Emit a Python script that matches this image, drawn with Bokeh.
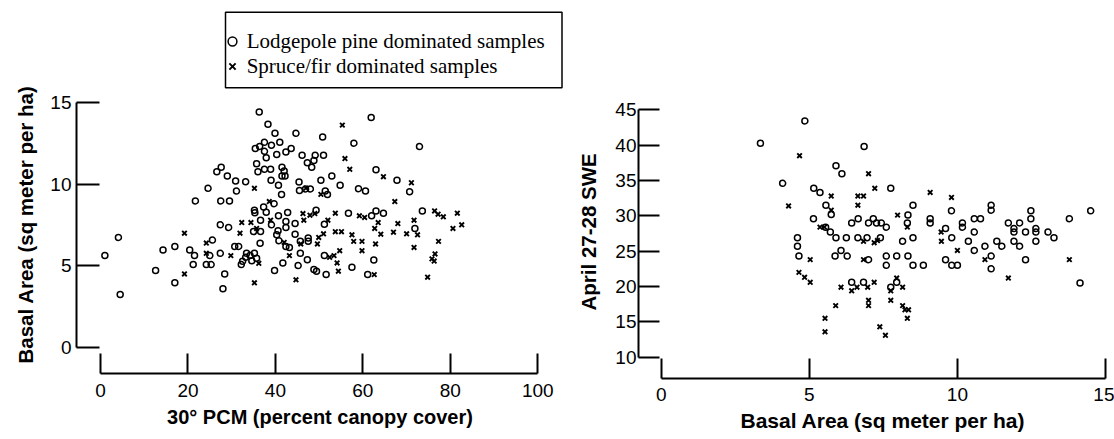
from bokeh.plotting import figure
from bokeh.layouts import row
from bokeh.models import FixedTicker, Range1d, Legend, LegendItem, BoxAnnotation, Title
from bokeh.embed import file_html
from bokeh.resources import INLINE

# ---------------- Left panel: 30 deg PCM vs basal area ----------------
lp_pcm = [36.3, 61.9, 38.3, 39.9, 44.7, 50.8, 57.95, 37.5, 41.0, 72.95, 35.4, 36.4, 37.5, 39.1, 43.6, 42.4,
          40.3, 37.9, 46.1, 49.1, 48.8, 51.0, 47.3, 48.3, 35.7, 41.5, 42.0, 27.6, 26.6, 63.0, 36.0, 37.5,
          38.9, 41.5, 42.2, 29.0, 52.9, 30.9, 33.2, 39.0, 50.4, 67.8, 45.4, 24.6, 31.1, 40.7, 54.8, 59.0,
          60.6, 70.7, 45.5, 46.9, 48.0, 41.4, 51.4, 51.9, 21.7, 27.5, 29.5, 39.7, 37.3, 37.9, 35.2, 35.3,
          42.8, 40.7, 49.3, 56.7, 62.0, 63.0, 64.7, 73.6, 36.6, 39.1, 42.4, 42.4, 44.5, 51.2, 27.4, 29.3,
          35.0, 36.6, 71.9, 40.6, 40.3, 44.5, 4.1, 40.8, 25.6, 45.7, 47.5, 47.5, 36.5, 42.4, 43.2, 30.7,
          31.6, 17.0, 14.3, 20.4, 51.2, 45.7, 1.0, 21.5, 25.0, 27.4, 33.4, 34.2, 35.2, 33.2, 34.6, 35.7,
          32.5, 32.2, 47.3, 41.7, 21.2, 24.2, 25.3, 45.2, 62.5, 57.5, 48.8, 49.4, 12.6, 39.8, 51.6, 61.1,
          28.4, 17.0, 28.0, 4.5]
lp_ba = [14.4, 14.07, 13.66, 13.1, 13.1, 12.87, 12.5, 12.55, 12.55, 12.29, 12.17, 12.3, 12.0, 12.37, 12.17, 11.96,
         11.8, 11.6, 11.76, 11.76, 11.44, 11.76, 11.3, 11.03, 11.24, 11.03, 10.8, 11.03, 10.75, 10.87, 10.75, 10.9,
         10.9, 10.49, 10.49, 10.49, 10.49, 10.18, 10.14, 10.24, 10.24, 10.24, 10.12, 9.74, 9.57, 9.92, 9.92, 9.72,
         9.57, 9.53, 9.6, 9.7, 9.7, 9.37, 9.57, 9.37, 8.97, 8.97, 8.97, 8.8, 8.6, 8.28, 8.4, 8.25,
         8.26, 8.06, 8.4, 8.22, 8.06, 8.36, 8.22, 8.36, 7.79, 7.51, 7.71, 7.35, 7.59, 7.55, 7.51, 7.35,
         7.1, 7.1, 7.29, 7.15, 6.9, 6.94, 6.74, 6.54, 6.58, 6.5, 6.7, 6.5, 6.38, 6.19, 6.13, 6.19,
         6.19, 6.19, 5.97, 5.97, 5.63, 5.77, 5.63, 5.63, 5.63, 5.77, 5.77, 5.63, 5.77, 5.53, 5.32, 5.47,
         5.28, 5.08, 5.38, 5.18, 5.08, 5.08, 5.08, 5.02, 5.36, 4.92, 4.78, 4.68, 4.72, 4.72, 4.47, 4.47,
         4.51, 3.97, 3.6, 3.26]
sf_pcm = [55.3, 55.9, 57.0, 64.7, 71.1, 35.2, 47.0, 50.4, 38.6, 67.3, 46.3, 47.9, 49.0, 53.7, 59.2, 60.4,
          76.4, 77.2, 78.4, 81.6, 38.9, 46.5, 52.0, 63.5, 68.0, 71.7, 32.3, 34.4, 35.7, 82.6, 80.6, 62.7,
          31.9, 19.2, 67.0, 70.0, 72.5, 51.0, 53.7, 55.1, 57.5, 64.1, 49.9, 42.0, 24.2, 45.8, 49.6, 57.9,
          59.8, 62.9, 77.3, 71.7, 59.8, 54.7, 53.4, 52.4, 43.2, 76.5, 75.8, 76.3, 24.2, 29.8, 36.2, 54.1,
          54.4, 62.6, 19.2, 35.2, 44.7, 74.8]
sf_ba = [13.6, 11.56, 10.9, 10.45, 10.08, 9.74, 9.75, 9.37, 8.93, 8.93, 8.2, 8.1, 8.2, 8.22, 8.06, 7.96,
         8.36, 8.16, 8.0, 8.22, 7.79, 7.79, 7.79, 7.65, 7.59, 7.79, 7.65, 7.65, 7.29, 7.51, 7.29, 7.29,
         7.0, 7.0, 7.06, 6.96, 6.9, 6.96, 7.09, 7.09, 6.9, 6.94, 6.74, 6.44, 6.4, 6.34, 6.34, 6.5,
         6.5, 6.34, 6.5, 6.13, 5.93, 5.93, 5.63, 5.53, 5.63, 5.73, 5.43, 5.3, 5.77, 5.63, 5.16, 5.18,
         4.68, 4.47, 4.51, 3.97, 4.15, 4.31]

# ---------------- Right panel: basal area vs April 27-28 SWE ----------------
lp_ba2 = [3.35, 4.85, 4.10, 6.85, 5.9, 6.1, 5.15, 5.36, 5.56, 5.74, 7.75, 8.5, 5.14, 6.65, 6.43, 7.16,
          7.0, 7.27, 7.43, 8.33, 9.08, 9.08, 9.8, 10.17, 10.17, 10.57, 10.78, 11.14, 11.14, 11.72, 12.1, 12.48,
          12.48, 13.78, 14.5, 5.55, 5.71, 5.9, 6.25, 7.6, 8.31, 8.5, 9.6, 9.81, 10.37, 10.57, 10.93, 11.33,
          11.5, 11.91, 11.91, 11.91, 12.1, 12.3, 12.65, 12.65, 12.65, 13.06, 13.26, 6.64, 6.95, 7.40, 8.15,
          4.6, 4.6, 4.65, 5.87, 6.07, 6.28, 7.0, 7.6, 7.6, 7.95, 8.33, 8.5, 8.85, 9.6, 9.81, 10.0,
          10.57, 11.14, 11.14, 12.3, 14.14, 6.43, 6.83, 7.95, 7.75]
lp_swe = [40.26, 43.43, 34.6, 39.8, 37.1, 35.96, 33.9, 33.3, 31.5, 30.2, 33.9, 31.5, 29.6, 29.6, 29.0, 29.6,
          29.0, 29.0, 29.0, 30.1, 29.6, 29.0, 30.7, 29.0, 28.4, 29.6, 29.6, 31.5, 30.8, 29.0, 29.0, 30.7,
          29.6, 29.6, 30.7, 28.4, 27.7, 26.9, 26.9, 28.4, 29.0, 26.9, 28.2, 26.9, 26.4, 27.7, 25.7, 26.4,
          25.7, 27.7, 28.2, 26.4, 25.7, 27.7, 28.2, 27.7, 26.4, 27.7, 26.9, 26.9, 26.9, 26.9, 26.4,
          26.9, 25.7, 24.3, 24.3, 25.1, 24.3, 23.8, 24.3, 23.0, 24.3, 24.3, 23.0, 23.0, 23.8, 23.0, 23.0,
          25.1, 24.3, 22.5, 23.8, 20.5, 20.6, 20.6, 20.6, 19.9]
sf_ba2 = [4.67, 4.30, 7.0, 5.74, 6.64, 6.83, 6.64, 7.21, 9.08, 9.8, 5.74, 7.98, 5.36, 5.51, 8.31, 9.45,
          9.46, 6.83, 7.19, 7.3, 5.03, 6.83, 10.0, 10.93, 13.78, 11.72, 4.65, 4.84, 5.03, 6.07, 6.43, 6.61,
          6.97, 7.19, 7.95, 7.75, 8.15, 7.0, 7.0, 7.75, 5.89, 8.15, 8.23, 8.35, 5.53, 5.53, 8.31, 7.38, 7.57]
sf_swe = [38.5, 31.4, 35.96, 32.8, 32.8, 32.8, 31.5, 33.9, 33.3, 32.6, 30.8, 30.1, 28.4, 28.4, 28.4, 27.7,
          26.4, 26.4, 26.2, 26.5, 23.8, 23.8, 25.1, 23.8, 23.8, 21.2, 22.0, 21.3, 20.6, 19.9, 19.4, 19.9,
          19.9, 20.6, 21.2, 19.4, 19.9, 18.05, 17.3, 18.05, 17.3, 17.3, 16.7, 16.7, 15.5, 13.6, 15.5, 14.3, 13.1]

pcm_ticks = [0, 20, 40, 60, 80, 100]
ba_ticks = [0, 5, 10, 15]
swe_ticks = [10, 15, 20, 25, 30, 35, 40, 45]

legend_labels = ["Lodgepole pine dominated samples", "Spruce/fir dominated samples"]

SANS = "Liberation Sans"


def style_axis(ax, ticks, bounds, tick_in, standoff):
    ax.ticker = FixedTicker(ticks=ticks)
    ax.bounds = bounds
    ax.axis_line_width = 2
    ax.axis_line_color = "black"
    ax.major_tick_line_width = 2
    ax.major_tick_line_color = "black"
    ax.major_tick_in = tick_in
    ax.major_tick_out = 0
    ax.minor_tick_line_color = None
    ax.major_label_text_font = SANS
    ax.major_label_text_font_size = "19px"
    ax.major_label_text_color = "black"
    ax.major_label_standoff = standoff
    ax.axis_label_text_font = SANS
    ax.axis_label_text_font_style = "bold"
    ax.axis_label_text_color = "black"


def side_title(text, size, offset, standoff, valign):
    return Title(text=text, align="left", offset=offset, standoff=standoff, vertical_align=valign,
                 text_font=SANS, text_font_size=size, text_font_style="bold", text_color="black")


def base_fig(width, height, xr, yr, bl, br, bt, bb):
    p = figure(width=width, height=height, x_range=Range1d(*xr), y_range=Range1d(*yr),
               output_backend="svg", toolbar_location=None, title=None,
               min_border_left=bl, min_border_right=br, min_border_top=bt, min_border_bottom=bb)
    p.xgrid.visible = False
    p.ygrid.visible = False
    p.outline_line_color = None
    p.background_fill_color = "white"
    p.border_fill_color = "white"
    return p


# ---- left figure (frame reaches the top/right edges so the legend is not clipped) ----
p1 = base_fig(563, 434, (-5.488, 105.88), (-1.570, 21.211), 76, 0, 0, 61)
c1 = p1.scatter(lp_pcm, lp_ba, marker="circle", size=6, line_color="black", line_width=1.5, fill_alpha=0)
x1 = p1.scatter(sf_pcm, sf_ba, marker="x", size=6.5, line_color="black", line_width=1.9)
style_axis(p1.xaxis[0], pcm_ticks, (0, 100), 20, 10)
style_axis(p1.yaxis[0], ba_ticks, (0, 15), 23, 5)
p1.xaxis.axis_label = "30\u00b0 PCM (percent canopy cover)"
p1.xaxis.axis_label_text_font_size = "20px"
p1.xaxis.axis_label_standoff = 6
p1.add_layout(side_title("Basal Area (sq meter per ha)", "20.5px", 10, 20, "middle"), "left")

box = BoxAnnotation(left=149, right=485.5, bottom=285.7, top=361.3,
                    left_units="screen", right_units="screen", bottom_units="screen", top_units="screen",
                    fill_alpha=0, line_color="black", line_alpha=1, line_width=1.5)
p1.add_layout(box)

legend = Legend(items=[LegendItem(label=legend_labels[0], renderers=[c1]),
                       LegendItem(label=legend_labels[1], renderers=[x1])],
                location=(144.7, 294.5), padding=0, margin=0, spacing=0,
                glyph_width=22, glyph_height=22, label_height=22, label_standoff=4,
                label_text_font="Liberation Serif", label_text_font_size="21px", label_text_color="black",
                border_line_alpha=0, background_fill_alpha=0)
p1.add_layout(legend)

# ---- right figure ----
p2 = base_fig(551, 439, (-0.767, 15), (6.987, 60.46), 75, 9, 0, 61)
p2.scatter(lp_ba2, lp_swe, marker="circle", size=6, line_color="black", line_width=1.5, fill_alpha=0)
p2.scatter(sf_ba2, sf_swe, marker="x", size=6.5, line_color="black", line_width=1.9)
style_axis(p2.xaxis[0], ba_ticks, (0, 15), 20, 9)
style_axis(p2.yaxis[0], swe_ticks, (10, 45), 21, 2)
p2.add_layout(side_title("Basal Area (sq meter per ha)", "21px", 102, 6, "bottom"), "below")
p2.add_layout(side_title("April 27-28 SWE", "20.5px", 68, 23, "middle"), "left")

layout = row(p1, p2)
open("out.html", "w").write(file_html(layout, INLINE))
